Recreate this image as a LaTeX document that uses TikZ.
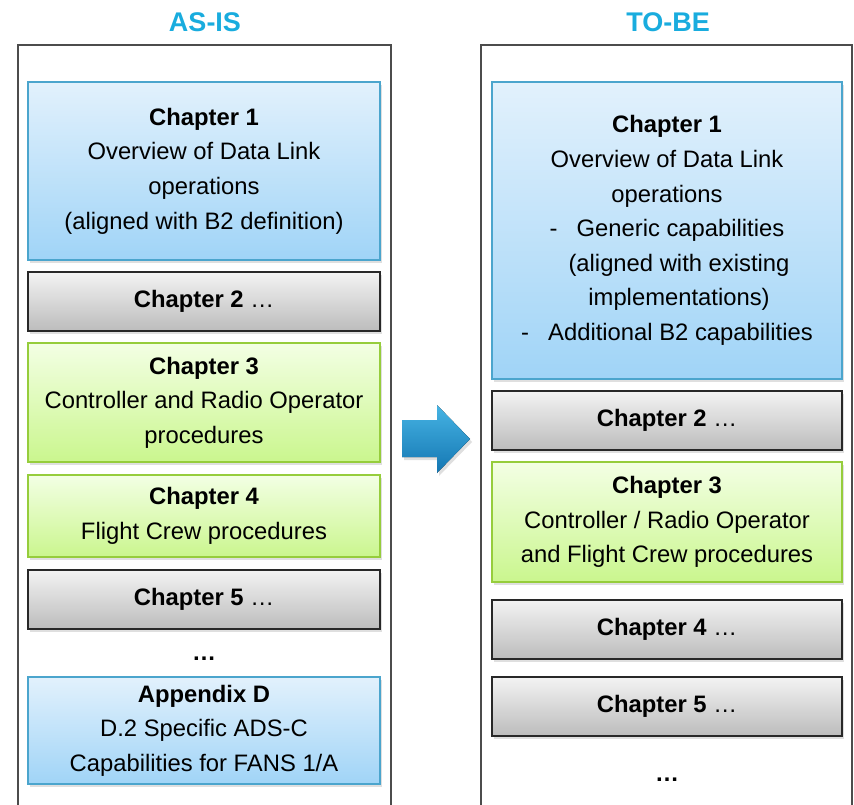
\documentclass[tikz,border=0pt]{standalone}
\usepackage{fontspec}
\setmainfont{Liberation Sans}
\usetikzlibrary{shadows}

\definecolor{bluetop}{RGB}{226,241,252}
\definecolor{bluebot}{RGB}{160,212,247}
\definecolor{blueline}{RGB}{75,165,205}
\definecolor{graytop}{RGB}{243,243,243}
\definecolor{graybot}{RGB}{188,188,188}
\definecolor{grayline}{RGB}{40,40,40}
\definecolor{greentop}{RGB}{243,255,228}
\definecolor{greenbot}{RGB}{202,246,142}
\definecolor{greenline}{RGB}{150,205,60}
\definecolor{headcol}{RGB}{25,172,222}
\definecolor{arrowtop}{RGB}{70,180,228}
\definecolor{arrowbot}{RGB}{20,118,178}

\tikzset{
  blockbox/.style={rectangle,line width=1.2pt,inner sep=0pt,align=center,
    font=\fontsize{23.8}{34.6}\selectfont,
    drop shadow={opacity=.25,shadow xshift=2pt,shadow yshift=-3pt}},
  bluebox/.style={blockbox,draw=blueline,top color=bluetop,bottom color=bluebot},
  graybox/.style={blockbox,draw=grayline,top color=graytop,bottom color=graybot},
  greenbox/.style={blockbox,draw=greenline,top color=greentop,bottom color=greenbot},
  panel/.style={draw=black!70,line width=1.3pt},
  heading/.style={text=headcol,font=\fontsize{27}{30}\selectfont\bfseries},
  dotsnode/.style={font=\fontsize{24}{30}\selectfont\bfseries}
}

\begin{document}
\begin{tikzpicture}[x=1pt,y=-1pt]
\useasboundingbox (0,0) rectangle (854,805);

\draw[panel] (18,805) -- (18,45) -- (391,45) -- (391,805);
\draw[panel] (481,805) -- (481,45) -- (852,45) -- (852,805);

\node[heading] (asis) at (205,22) {AS-IS};
\node[heading] (tobe) at (668,22) {TO-BE};

% AS-IS
\node[bluebox,minimum width=352,minimum height=178] (L1) at (204,171)
  {\textbf{Chapter 1}\\Overview of Data Link\\operations\\(aligned with B2 definition)};
\node[graybox,minimum width=352,minimum height=59] (L2) at (204,301.5)
  {\textbf{Chapter 2} …};
\node[greenbox,minimum width=352,minimum height=119] (L3) at (204,402.5)
  {\textbf{Chapter 3}\\Controller and Radio Operator\\procedures};
\node[greenbox,minimum width=352,minimum height=82] (L4) at (204,516)
  {\textbf{Chapter 4}\\Flight Crew procedures};
\node[graybox,minimum width=352,minimum height=59] (L5) at (204,599.5)
  {\textbf{Chapter 5} …};
\node[dotsnode] (Ldots) at (204,659) {…};
\node[bluebox,minimum width=352,minimum height=107] (LD) at (204,730.5)
  {\textbf{Appendix D}\\D.2 Specific ADS-C\\Capabilities for FANS 1/A};

% TO-BE
\node[bluebox,minimum width=350,minimum height=297] (R1) at (667,230.5)
  {\textbf{Chapter 1}\\Overview of Data Link\\operations\\
   -\hspace{0.8em}Generic capabilities\\
   \hspace*{24pt}(aligned with existing\\
   \hspace*{24pt}implementations)\\
   -\hspace{0.8em}Additional B2 capabilities};
\node[graybox,minimum width=350,minimum height=59] (R2) at (667,420.5)
  {\textbf{Chapter 2} …};
\node[greenbox,minimum width=350,minimum height=120] (R3) at (667,522)
  {\textbf{Chapter 3}\\Controller / Radio Operator\\and Flight Crew procedures};
\node[graybox,minimum width=350,minimum height=59] (R4) at (667,629.5)
  {\textbf{Chapter 4} …};
\node[graybox,minimum width=350,minimum height=59] (R5) at (667,706.5)
  {\textbf{Chapter 5} …};
\node[dotsnode] (Rdots) at (667,780) {…};

\fill[top color=arrowtop,bottom color=arrowbot,
      drop shadow={opacity=.25,shadow xshift=2pt,shadow yshift=-3pt}]
  (402,420) -- (437,420) -- (437,405) -- (470,439)
  -- (437,473) -- (437,457) -- (402,457) -- cycle;
\end{tikzpicture}
\end{document}
